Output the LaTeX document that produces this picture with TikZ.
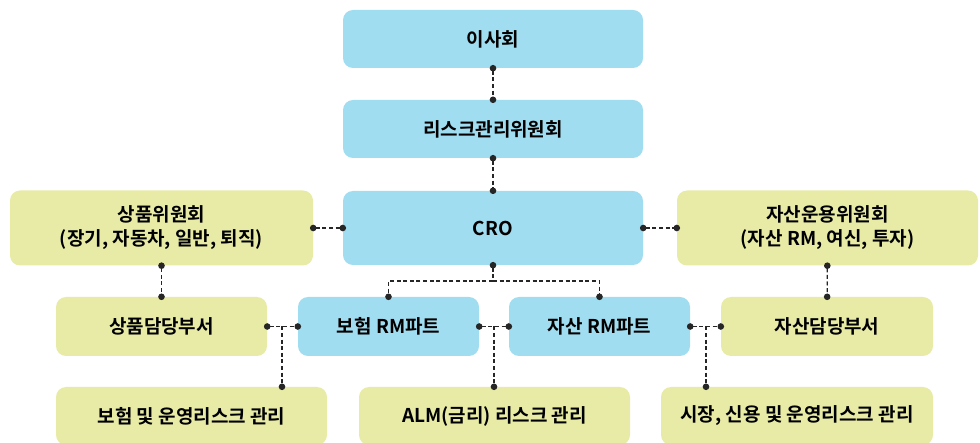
\documentclass[tikz,border=0pt]{standalone}
\usepackage{fontspec}
\setmainfont{Noto Sans CJK KR}[BoldFont={Noto Sans CJK KR Bold}]
\usetikzlibrary{arrows.meta}

\begin{document}
\begin{tikzpicture}
      [x=1pt,y=-1pt,
        box/.style={rounded corners=10pt,inner sep=0pt,align=center,
          font=\fontsize{19}{24}\selectfont\bfseries},
        bluebox/.style={box,fill=boxblue},
        greenbox/.style={box,fill=boxgreen},
        link/.style={line width=1.3pt,draw=black!85,
          dash pattern=on 4pt off 2.6pt},
        bothdots/.style={link,{Circle[length=6.5pt]}-{Circle[length=6.5pt]},
          shorten <=-3.25pt,shorten >=-3.25pt},
        startdot/.style={link,{Circle[length=6.5pt]}-,shorten <=-3.25pt},
        enddot/.style={link,-{Circle[length=6.5pt]},shorten >=-3.25pt}]
  \definecolor{boxblue}{RGB}{160,221,240}
  \definecolor{boxgreen}{RGB}{232,235,166}
  \clip (0,0) rectangle (980,443);
  % top column
  \node[bluebox,minimum width=300pt,minimum height=58pt] (board) at (493,39) {이사회};
  \node[bluebox,minimum width=300pt,minimum height=58pt] (rmc) at (493,129) {리스크관리위원회};
  \node[bluebox,minimum width=300pt,minimum height=74pt] (cro) at (493,228) {CRO};
  % committees
  \node[greenbox,minimum width=303pt,minimum height=75pt] (prodcom) at (161.5,228)
      {상품위원회\\(장기, 자동차, 일반, 퇴직)};
  \node[greenbox,minimum width=301pt,minimum height=75pt] (assetcom) at (827.5,228)
      {자산운용위원회\\(자산 RM, 여신, 투자)};
  % middle row
  \node[greenbox,minimum width=211pt,minimum height=59pt] (proddept) at (161.5,326.5) {상품담당부서};
  \node[bluebox,minimum width=181pt,minimum height=59pt] (insrm) at (388.5,326.5) {보험 RM파트};
  \node[bluebox,minimum width=181pt,minimum height=59pt] (assetrm) at (599.5,326.5) {자산 RM파트};
  \node[greenbox,minimum width=212pt,minimum height=59pt] (assetdept) at (827,326.5) {자산담당부서};
  % bottom row
  \node[greenbox,minimum width=271pt,minimum height=58pt] (insrisk) at (191.5,416) {보험 및 운영리스크 관리};
  \node[greenbox,minimum width=271pt,minimum height=58pt] (almrisk) at (494.5,416) {ALM(금리) 리스크 관리};
  \node[greenbox,minimum width=272pt,minimum height=58pt] (mktrisk) at (797,416) {시장, 신용 및 운영리스크 관리};

  \draw[bothdots] (board) -- (rmc);
  \draw[bothdots] (rmc) -- (cro);
  \draw[bothdots] (prodcom) -- (cro);
  \draw[bothdots] (cro) -- (assetcom);
  \draw[bothdots] (prodcom) -- (proddept);
  \draw[bothdots] (assetcom) -- (assetdept);

  \coordinate (split) at (493,281);
  \draw[startdot] (cro.south) -- (split);
  \draw[enddot] (split) -| (insrm.north);
  \draw[enddot] (split) -| (assetrm.north);

  \coordinate (b1) at (282,326.5);
  \coordinate (b2) at (494,326.5);
  \coordinate (b3) at (706,326.5);
  \draw[bothdots] (proddept) -- (insrm);
  \draw[bothdots] (insrm) -- (assetrm);
  \draw[bothdots] (assetrm) -- (assetdept);
  \draw[enddot] (b1) -- (b1 |- insrisk.north);
  \draw[enddot] (b2) -- (b2 |- almrisk.north);
  \draw[enddot] (b3) -- (b3 |- mktrisk.north);
\end{tikzpicture}
\end{document}
